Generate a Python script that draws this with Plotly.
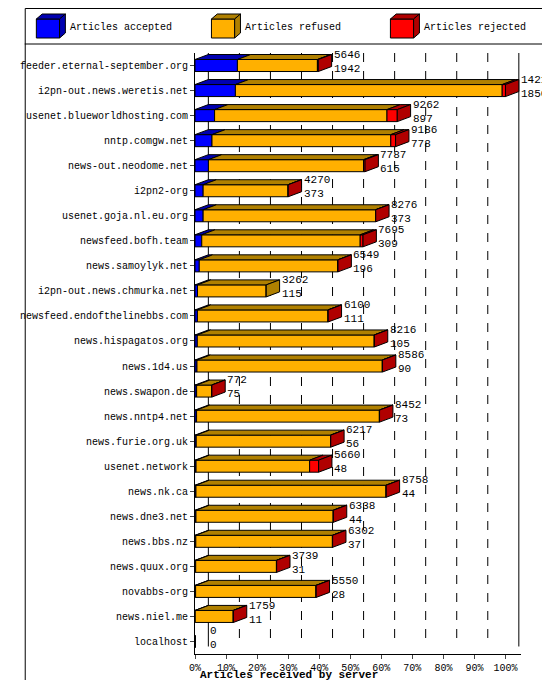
import plotly.graph_objects as go

servers = ["feeder.eternal-september.org", "i2pn-out.news.weretis.net", "usenet.blueworldhosting.com",
           "nntp.comgw.net", "news-out.neodome.net", "i2pn2-org", "usenet.goja.nl.eu.org",
           "newsfeed.bofh.team", "news.samoylyk.net", "i2pn-out.news.chmurka.net",
           "newsfeed.endofthelinebbs.com", "news.hispagatos.org", "news.1d4.us", "news.swapon.de",
           "news.nntp4.net", "news.furie.org.uk", "usenet.network", "news.nk.ca", "news.dne3.net",
           "news.bbs.nz", "news.quux.org", "novabbs-org", "news.niel.me", "localhost"]
total = [5646, 14218, 9262, 9186, 7787, 4270, 8276, 7695, 6549, 3262, 6100, 8216, 8586, 772,
         8452, 6217, 5660, 8758, 6338, 6302, 3739, 5550, 1759, 0]
accepted = [1942, 1850, 897, 778, 615, 373, 373, 309, 196, 115, 111, 105, 90, 75, 73, 56, 48,
            44, 44, 37, 31, 28, 11, 0]
rejected = [40, 150, 470, 220, 70, 10, 10, 130, 10, 0, 10, 10, 10, 10, 10, 10, 410, 10, 10,
            10, 10, 10, 10, 0]
refused = [t - a - r for t, a, r in zip(total, accepted, rejected)]

top = max(total)
pct = lambda v: v / top * 100

FRONT = {"acc": "#0000ff", "ref": "#ffb000", "rej": "#ff0000"}
DARK = {"acc": "#0000b0", "ref": "#b08000", "rej": "#b00000"}
H = 0.48   # bar thickness (row units)
DX = 4.3   # depth in percent
DY = 0.2   # depth in row units
FONT = "Liberation Mono"

# plot area in pixels, used to place the legend/header in paper coords
PL, PR, PT, PB = 176, 513, 45, 646
px = lambda x: (x - PL) / (PR - PL)
py = lambda y: (PB - y) / (PB - PT)

fig = go.Figure()
ys = list(range(len(servers)))
segs = [("acc", accepted), ("ref", refused), ("rej", rejected)]
base = [0] * len(servers)
tops = {k: ([], []) for k in FRONT}
sides = {k: ([], []) for k in FRONT}
for key, vals in segs:
    fig.add_bar(y=ys, x=[pct(v) for v in vals], base=[pct(b) for b in base], orientation="h",
                width=H, marker=dict(color=FRONT[key], line=dict(color="black", width=1)),
                showlegend=False, hoverinfo="skip")
    for i, v in enumerate(vals):
        if v <= 0:
            continue
        x0, x1 = pct(base[i]), pct(base[i] + v)
        yt = i - H / 2
        tx, ty = tops[key]
        tx += [x0, x1, x1 + DX, x0 + DX, x0, None]
        ty += [yt, yt, yt - DY, yt - DY, yt, None]
    base = [b + v for b, v in zip(base, vals)]

# side face uses last non-empty segment
for i in ys:
    last = None
    for key, vals in segs:
        if vals[i] > 0:
            last = key
    if last is None:
        continue
    x1 = pct(total[i])
    sx, sy = sides[last]
    sx += [x1, x1 + DX, x1 + DX, x1, x1, None]
    sy += [i - H / 2, i - H / 2 - DY, i + H / 2 - DY, i + H / 2, i - H / 2, None]

for key in FRONT:
    for xs, yv in (tops[key], sides[key]):
        if xs:
            fig.add_scatter(x=xs, y=yv, mode="lines", fill="toself", fillcolor=DARK[key],
                            line=dict(color="black", width=1), showlegend=False, hoverinfo="skip")

# value labels
for i in ys:
    fig.add_annotation(x=pct(total[i]) + DX, y=i - 0.15, text=f"{total[i]}<br>{accepted[i]}",
                       xanchor="left", yanchor="middle", showarrow=False, align="left",
                       font=dict(family=FONT, size=11, color="black"))

# dashed back-wall grid
for t in range(10, 100, 10):
    fig.add_shape(type="line", x0=t + DX, x1=t + DX, y0=-0.5, y1=len(servers) - 0.5 - DY - 0.3,
                  line=dict(color="black", width=1, dash="dash"), layer="below")
for t in (0, 100):
    fig.add_shape(type="line", x0=t + DX, x1=t + DX, y0=-0.5, y1=len(servers) - 0.8,
                  line=dict(color="black", width=1), layer="below")

# legend
legend = [("Articles accepted", "acc", 12), ("Articles refused", "ref", 193), ("Articles rejected", "rej", 378)]
for label, key, x in legend:
    fig.add_shape(type="rect", xref="paper", yref="paper", x0=px(x), x1=px(x + 24),
                  y0=py(30), y1=py(11), fillcolor=FRONT[key], line=dict(color="black", width=1))
    fig.add_shape(type="path", xref="paper", yref="paper",
                  path=f"M{px(x)},{py(11)} L{px(x+6)},{py(6)} L{px(x+30)},{py(6)} L{px(x+24)},{py(11)} Z",
                  fillcolor=DARK[key], line=dict(color="black", width=1))
    fig.add_shape(type="path", xref="paper", yref="paper",
                  path=f"M{px(x+24)},{py(11)} L{px(x+30)},{py(6)} L{px(x+30)},{py(25)} L{px(x+24)},{py(30)} Z",
                  fillcolor=DARK[key], line=dict(color="black", width=1))
    fig.add_annotation(xref="paper", yref="paper", x=px(x + 33), y=py(19), text=label,
                       showarrow=False, xanchor="left", yanchor="middle",
                       font=dict(family=FONT, size=10, color="black"))
fig.add_shape(type="line", xref="paper", yref="paper", x0=px(0), x1=px(550), y0=py(36), y1=py(36),
              line=dict(color="black", width=1))
fig.add_shape(type="rect", xref="paper", yref="paper", x0=px(0.5), x1=px(549.5), y0=py(679.5), y1=py(0.5),
              line=dict(color="black", width=1))
fig.add_annotation(xref="paper", yref="paper", x=px(179), y=py(667), text="<b>Articles received by server</b>",
                   showarrow=False, xanchor="left", yanchor="middle",
                   font=dict(family=FONT, size=11, color="black"))

fig.update_layout(
    width=550, height=680, paper_bgcolor="white", plot_bgcolor="white",
    margin=dict(l=PL, r=550 - PR, t=PT, b=680 - PB), barmode="overlay",
    font=dict(family=FONT, size=10, color="black"),
    xaxis=dict(range=[0, 100 + DX + 0.7], tickvals=list(range(0, 101, 10)),
               ticktext=[f"{t}%" for t in range(0, 101, 10)], showgrid=False, zeroline=False,
               showline=True, linecolor="black", ticks="outside", ticklen=4, fixedrange=True),
    yaxis=dict(range=[len(servers) - 0.5, -0.5], tickvals=ys, ticktext=servers, showgrid=False,
               zeroline=False, showline=True, linecolor="black", ticks="outside", ticklen=4),
)
fig.write_html("out.html")
